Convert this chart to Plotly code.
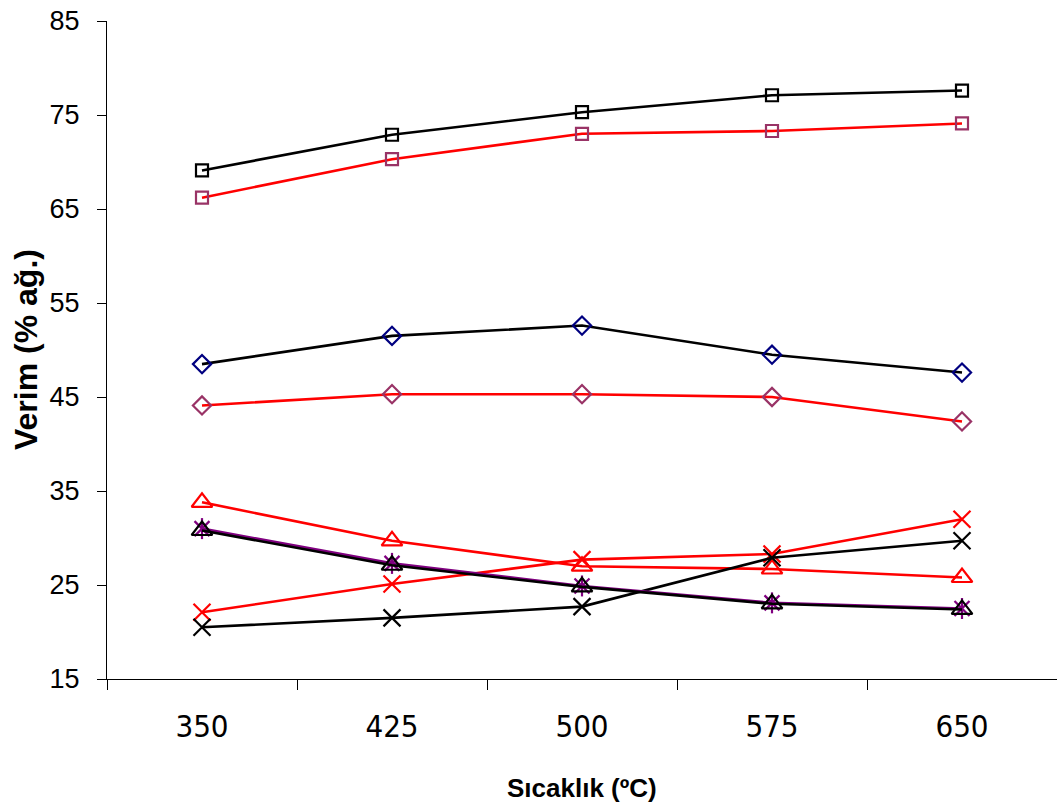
import plotly.graph_objects as go

temps = ["350", "425", "500", "575", "650"]

black_square = [69.1, 72.9, 75.3, 77.1, 77.6]
red_square = [66.2, 70.3, 73.0, 73.3, 74.1]
navy_diamond = [48.5, 51.5, 52.6, 49.5, 47.6]
red_diamond = [44.1, 45.3, 45.3, 45.0, 42.4]
red_triangle = [33.8, 29.7, 27.0, 26.7, 25.8]
black_triangle = [30.8, 27.1, 24.8, 23.0, 22.4]
purple_star = [31.0, 27.3, 24.9, 23.1, 22.5]
red_x = [22.1, 25.1, 27.7, 28.3, 32.0]
black_x = [20.5, 21.5, 22.7, 27.9, 29.7]

NARROW = "DejaVu Sans Condensed, Liberation Sans Narrow, Arial Narrow, sans-serif"
SANS = "Liberation Sans, Arial, sans-serif"

fig = go.Figure()


def add(y, line_color, marker_color, symbol, size=12, mw=2.2, lw=2.6, show_line=True):
    fig.add_trace(go.Scatter(
        x=temps, y=y,
        mode="lines+markers" if show_line else "markers",
        line=dict(color=line_color, width=lw),
        marker=dict(symbol=symbol, size=size, color=marker_color,
                    line=dict(color=marker_color, width=mw)),
        showlegend=False, hoverinfo="x+y",
    ))


add(black_square, "black", "black", "square-open", size=12)
add(red_square, "red", "#993366", "square-open", size=12)
add(navy_diamond, "black", "#000080", "diamond-open", size=14)
add(red_diamond, "red", "#993366", "diamond-open", size=14)
add(red_triangle, "red", "red", "triangle-up-open", size=18)
add(red_x, "red", "red", "x-thin-open", size=17)
add(black_x, "black", "black", "x-thin-open", size=17)
# purple star (X with vertical bar) underneath black triangle series
add(purple_star, "#800080", "#800080", "x-thin-open", size=15)
add(purple_star, "#800080", "#800080", "line-ns-open", size=15, show_line=False)
add(black_triangle, "black", "black", "triangle-up-open", size=18)

fig.update_layout(
    width=1057, height=809,
    margin=dict(l=107, r=0, t=21, b=130),
    paper_bgcolor="white", plot_bgcolor="white",
    showlegend=False,
    xaxis=dict(
        type="category", range=[-0.5, 4.5],
        tickson="boundaries", ticks="outside", ticklen=10, tickcolor="black", tickwidth=1,
        showline=True, linecolor="black", linewidth=1,
        showgrid=False, zeroline=False,
        tickfont=dict(family=NARROW, size=31, color="black"),
        ticklabelstandoff=20,
    ),
    yaxis=dict(
        range=[15, 85], tick0=15, dtick=10,
        ticks="outside", ticklen=9, tickcolor="black", tickwidth=1,
        showline=True, linecolor="black", linewidth=1,
        showgrid=False, zeroline=False,
        tickfont=dict(family=SANS, size=27, color="black"),
        ticklabelstandoff=12,
    ),
    annotations=[
        dict(text="<b>Sıcaklık (ºC)</b>", x=0.5, xref="paper", y=0, yref="paper",
             showarrow=False, font=dict(family=SANS, size=26, color="black")),
        dict(text="<b>Verim (% ağ.)</b>", xref="paper", yref="paper",
             x=0, y=0.5, showarrow=False, textangle=-90,
             font=dict(family=SANS, size=32, color="black")),
    ],
)

plot_w = 1057 - 107
plot_h = 809 - 21 - 130
fig.layout.annotations[0].update(x=0.5, y=-(788 - 679) / plot_h, yanchor="middle", xanchor="center")
fig.layout.annotations[1].update(x=-(107 - 26) / plot_w, y=(679 - 350) / plot_h, xanchor="center", yanchor="middle")

fig.write_html("out.html")
